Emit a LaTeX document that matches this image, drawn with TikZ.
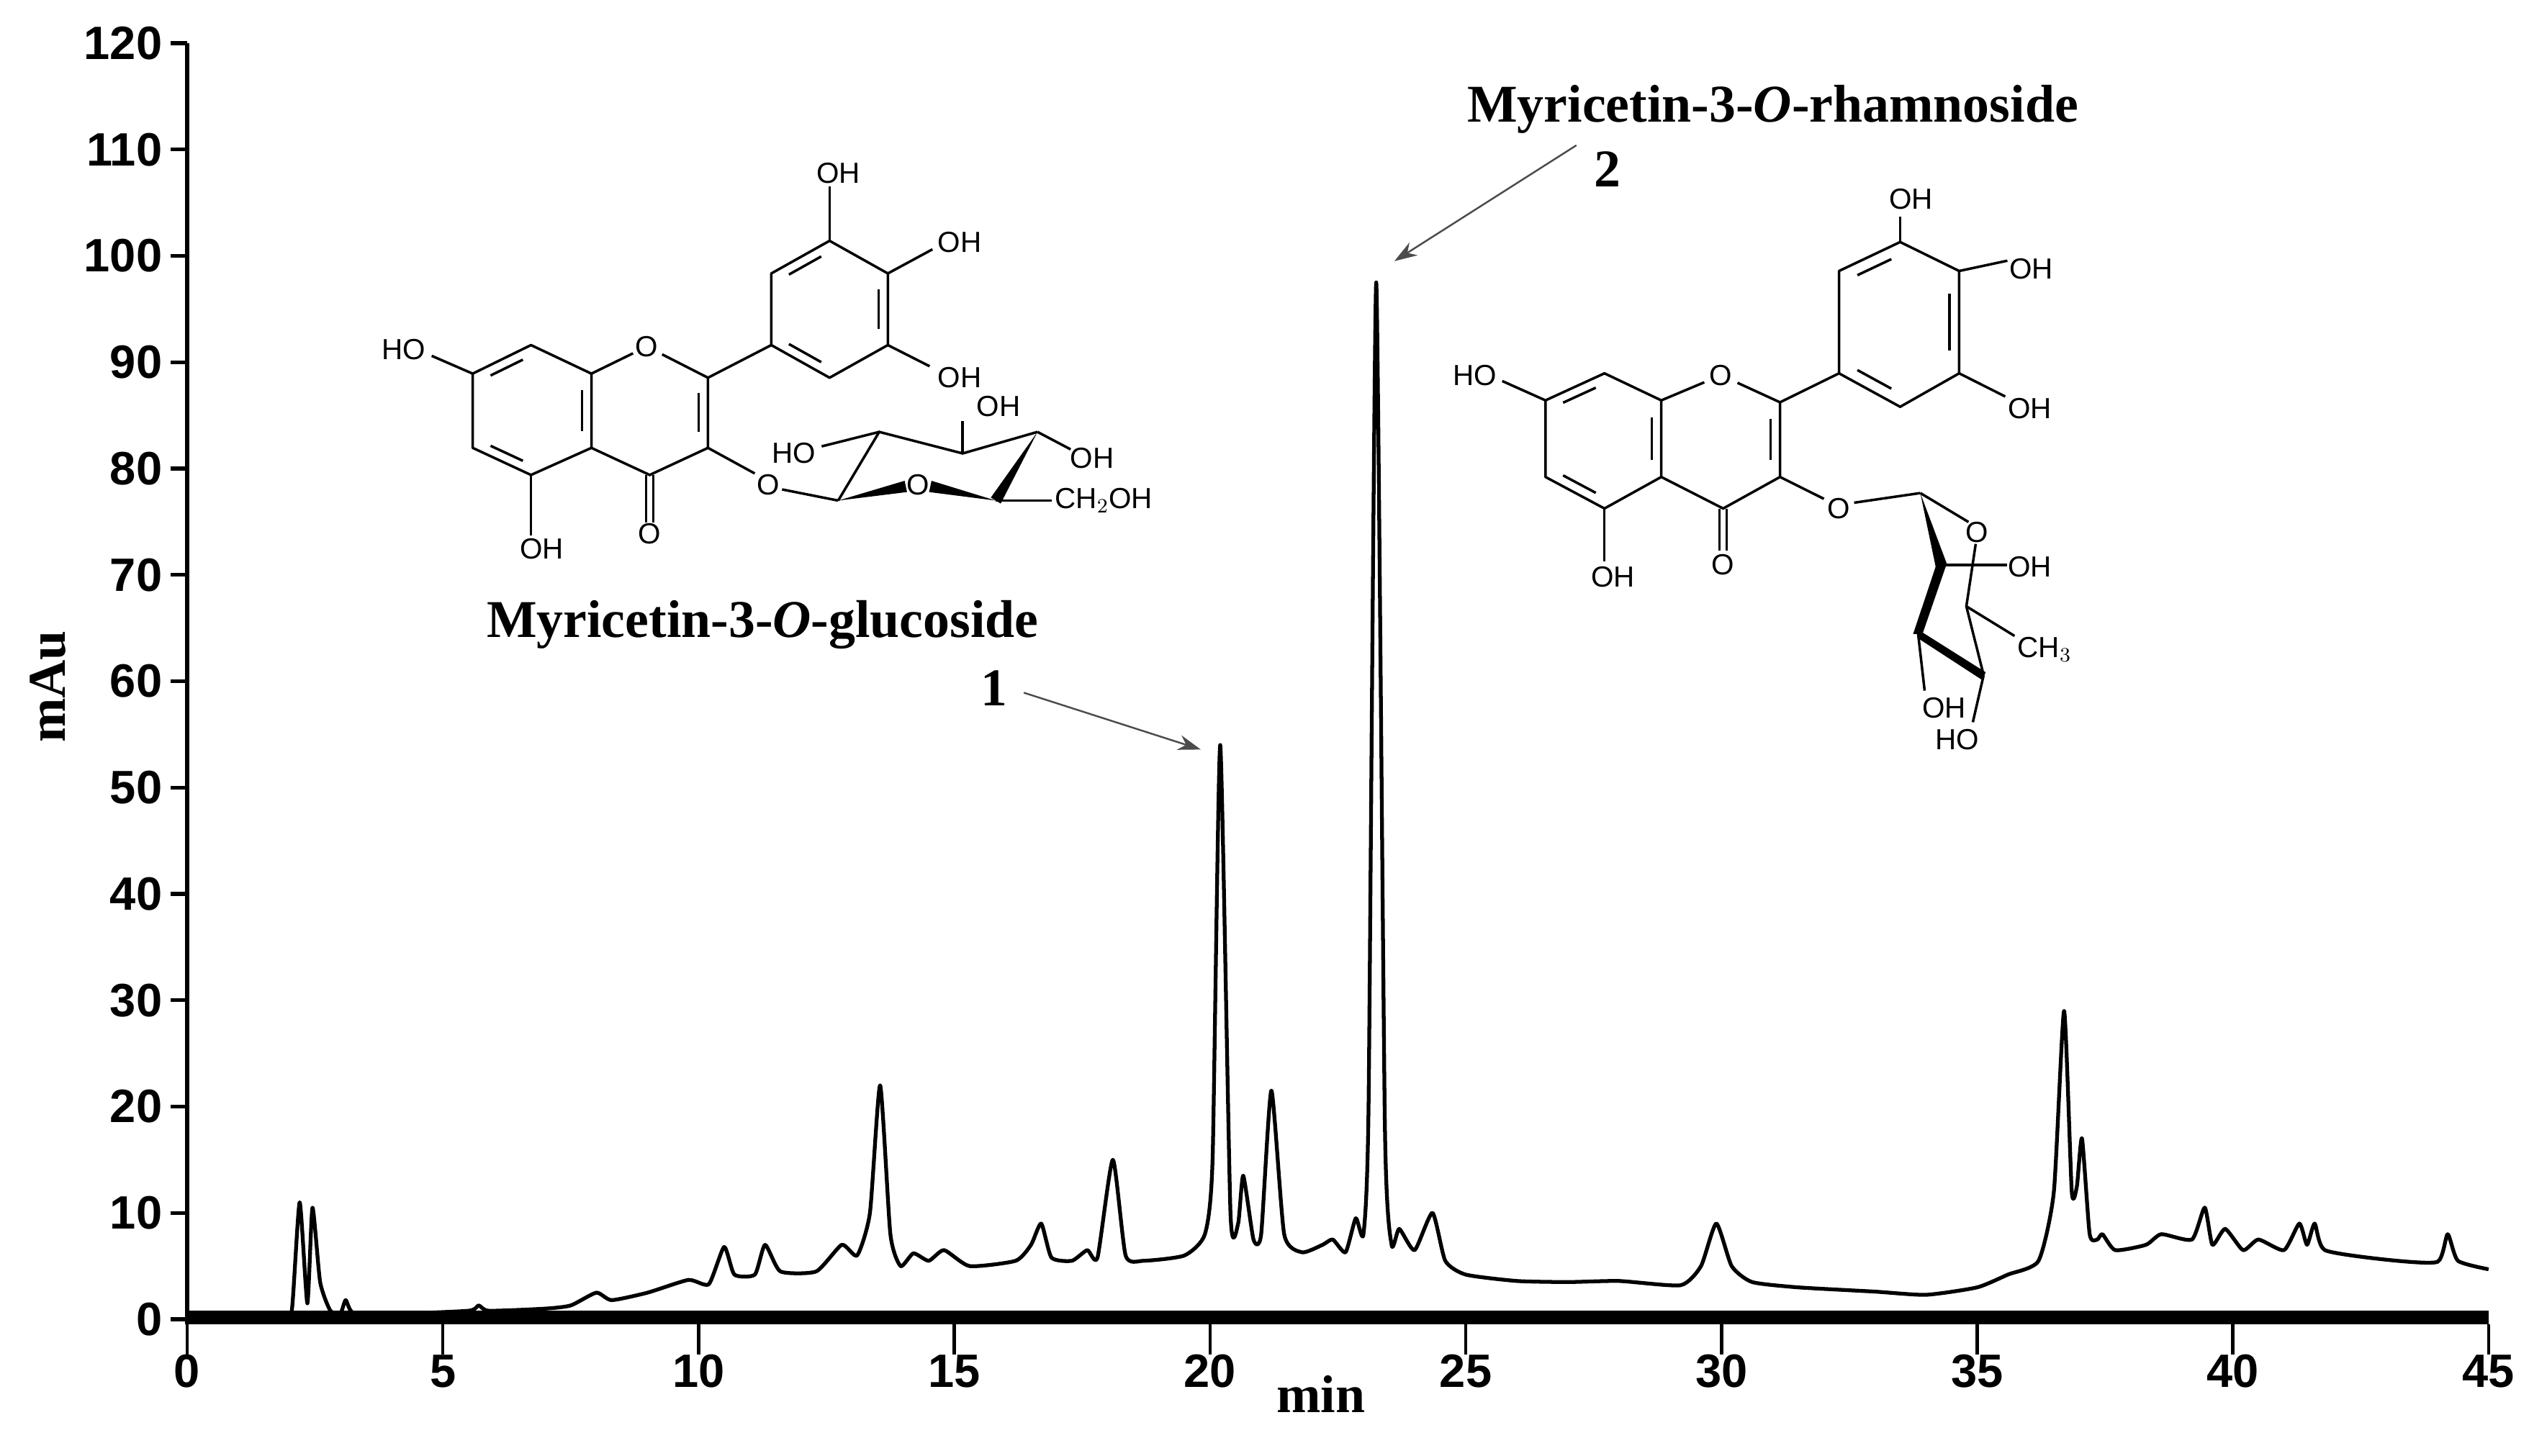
\documentclass[tikz,border=0pt]{standalone}
\usepackage{fontspec}
\setmainfont{Liberation Serif}
\newfontfamily\arial{Liberation Sans}
\usetikzlibrary{calc,arrows.meta}
\tikzset{
  ticklab/.style={font=\arial\bfseries\fontsize{18.5}{20}\selectfont, inner sep=0pt},
  atom/.style={font=\arial\fontsize{11.5}{12}\selectfont, inner sep=1pt},
  cname/.style={font=\bfseries\fontsize{21}{23}\selectfont, inner sep=0pt},
  bond/.style={line width=1.0pt},
  pointer/.style={line width=0.7pt, gray!60!black, -{Stealth[length=9pt,width=6pt]}},
}
\newcommand\cA[3]{\coordinate (#1) at (#2,{180+(#3-180)*0.5159});}
\newcommand\cB[3]{\coordinate (#1) at (#2,{230+(#3-230)*0.8948});}
\newcommand\dbl[3]{\path ($(#1)!0.17!(#2)$) coordinate (dA) ($(#1)!0.83!(#2)$) coordinate (dB);
  \draw[bond] ($(dA)!0.16!(#3)$) -- ($(dB)!0.16!(#3)$);}
\newcommand\wdg[2]{\fill (#1) -- ($(#2)!0.08cm!90:(#1)$) -- ($(#2)!0.08cm!-90:(#1)$) -- cycle;}
\newcommand\atA[4][]{\node[atom,#1] (#2) at (#3) {#4};}
\begin{document}
\begin{tikzpicture}
\useasboundingbox[fill=white] (0,0) rectangle (35.13,20.22);
% ---------- plot ----------
\begin{scope}[shift={(2.60,1.89)}, x=0.7104cm, y=0.14775cm]
  \fill (0,-0.5) rectangle (45,0.8);
  \draw[line width=1.5pt] (0,-0.5) -- (0,120);
  \foreach \v in {0,10,...,120} {
    \draw[line width=1.5pt] (0,\v) -- (-0.32,\v);
    \node[ticklab, anchor=east] (yl\v) at (-0.48,\v) {\v};
  }
  \foreach \v in {0,5,...,45} {
    \draw[line width=1.3pt] (\v,-0.5) -- (\v,-3.3);
    \node[ticklab] (xl\v) at (\v,-4.9) {\v};
  }
  \node[cname, rotate=90] (ylab) at (-2.72,59.5) {mAu};
  \node[cname] (xlab) at (22.17,-7.0) {min};
  \draw[line width=1.5pt, line join=round] plot[smooth, tension=0.35] coordinates {
   (0,0.5) (1.9,0.5) (2.05,1) (2.2,11) (2.35,1.5) (2.45,10.5) (2.6,3.5) (2.8,0.8) (3.0,0.6) (3.1,1.8) (3.25,0.6)
   (4,0.5) (5.5,0.8) (5.7,1.3) (5.9,0.8) (7,1) (7.5,1.3) (8,2.5) (8.3,1.8) (9,2.5) (9.8,3.7) (10.2,3.3)
   (10.5,6.8) (10.7,4.2) (11.1,4.2) (11.3,7) (11.6,4.5) (12.3,4.5) (12.8,7) (13.1,6) (13.35,10) (13.55,22) (13.75,8) (13.95,5)
   (14.2,6.2) (14.5,5.5) (14.8,6.5) (15.3,5) (16.2,5.5) (16.5,7) (16.7,9) (16.9,5.8) (17.3,5.5) (17.6,6.5) (17.8,5.8)
   (18.1,15) (18.35,6) (18.7,5.5) (19.5,6) (19.9,8) (20.05,15) (20.2,54) (20.4,10) (20.55,9) (20.65,13.5) (20.85,7.5)
   (21.0,8) (21.2,21.5) (21.45,8) (21.8,6.3) (22.2,7) (22.4,7.5) (22.65,6.3) (22.85,9.5) (23.0,8) (23.1,20) (23.25,97.5) (23.42,18) (23.55,7)
   (23.7,8.5) (24.0,6.5) (24.35,10) (24.6,5.5) (25,4.2) (26,3.6) (27,3.5) (28,3.6) (29.2,3.2) (29.6,5) (29.9,9) (30.2,5) (30.6,3.5)
   (31.5,3) (33,2.6) (34,2.3) (35,3) (35.6,4.2) (36.2,5.5) (36.5,12) (36.7,29) (36.85,12) (36.95,12.5) (37.05,17) (37.2,8) (37.35,7.5) (37.45,8)
   (37.7,6.5) (38.3,7) (38.6,8) (39.2,7.5) (39.45,10.5) (39.6,7) (39.85,8.5) (40.2,6.5) (40.5,7.5) (41,6.5) (41.3,9) (41.45,7)
   (41.6,9) (41.8,6.5) (43,5.6) (44,5.4) (44.2,8) (44.4,5.5) (45,4.7) };
\end{scope}
% ---------- labels and arrows ----------
\begin{scope}[shift={(0,20.22)}, x=0.01cm, y=-0.01cm]
  \node[cname] (n1) at (1382,957) {1};
  \node[cname] (n2) at (2234,235) {2};
  \node[cname] (c1) at (1060,869) {Myricetin-3-\textit{O}-glucoside};
  \node[cname] (c2) at (2464,152) {Myricetin-3-\textit{O}-rhamnoside};
  \coordinate (p1) at (1669,1042);
  \coordinate (p2) at (1938,363);
  \draw[pointer] (1423,963) -- (p1);
  \draw[pointer] (2191,202) -- (p2);

  % ===== structure 1 =====
  \cA{C7}{657}{838} \cA{C8}{738}{761} \cA{C8a}{822}{838}
  \cA{C4a}{822}{1038} \cA{C5}{738}{1111} \cA{C6}{657}{1038}
  \cA{O1}{899}{765} \cA{C2}{984}{849} \cA{C3}{984}{1038} \cA{C4}{903}{1111}
  \cA{Bc1}{1072}{761} \cA{Bc2}{1072}{568} \cA{Bc3}{1153}{480}
  \cA{Bc4}{1234}{568} \cA{Bc5}{1234}{761} \cA{Bc6}{1153}{849}
  \cA{Ac}{740}{938} \cA{Cc}{903}{938} \cA{Bc}{1153}{665}
  \cA{kO}{903}{1240} \cA{xOc}{903}{1270}
  \cA{k5}{738}{1275} \cA{x5}{753}{1311}
  \cA{k7}{600}{790} \cA{x7}{561}{772}
  \cA{k3}{1153}{334} \cA{x3}{1165}{297}
  \cA{k4}{1296}{503} \cA{x4}{1334}{484}
  \cA{k5b}{1292}{818} \cA{x5b}{1334}{849}
  \cA{kg}{1049}{1107} \cA{xg}{1068}{1138} \cA{kg2}{1087}{1150}
  \cA{S1}{1165}{1180} \cA{S2}{1222}{995} \cA{S3}{1338}{1053}
  \cA{S4}{1442}{995} \cA{S5}{1384}{1180} \cA{SO}{1276}{1138}
  \cA{ks2}{1142}{1034} \cA{xs2}{1103}{1053}
  \cA{ks3}{1338}{965} \cA{xs3}{1388}{926}
  \cA{ks4}{1488}{1042} \cA{xs4}{1518}{1065}
  \cA{ks5}{1462}{1180}
  \draw[bond, line join=round] (C7)--(C8)--(C8a)--(C4a)--(C5)--(C6)--cycle;
  \draw[bond] (C8a)--($(C8a)!0.75!(O1)$); \draw[bond] ($(O1)!0.25!(C2)$)--(C2)--(C3)--(C4)--(C4a);
  \draw[bond, line join=round] (Bc1)--(Bc2)--(Bc3)--(Bc4)--(Bc5)--(Bc6)--cycle;
  \draw[bond] (C2)--(Bc1);
  \dbl{C7}{C8}{Ac} \dbl{C8a}{C4a}{Ac} \dbl{C5}{C6}{Ac}
  \dbl{C2}{C3}{Cc} \dbl{Bc2}{Bc3}{Bc} \dbl{Bc4}{Bc5}{Bc} \dbl{Bc1}{Bc6}{Bc}
  \atA{o1}{O1}{O}
  \draw[bond] ($(C4)+(-5,0)$)--($(kO)+(-5,0)$); \draw[bond] ($(C4)+(5,0)$)--($(kO)+(5,0)$);
  \atA{oc}{xOc}{O}
  \draw[bond] (C5)--(k5); \atA{oh5}{x5}{OH}
  \draw[bond] (C7)--(k7); \atA{oh7}{x7}{HO}
  \draw[bond] (Bc3)--(k3); \atA{oh3}{x3}{OH}
  \draw[bond] (Bc4)--(k4); \atA{oh4}{x4}{OH}
  \draw[bond] (Bc5)--(k5b); \atA{oh5b}{x5b}{OH}
  \draw[bond] (C3)--(kg); \atA{og}{xg}{O}
  \draw[bond] (kg2)--(S1); \draw[bond] (S1)--(S2)--(S3)--(S4);
  \wdg{S4}{S5} \wdg{S5}{$(SO)+(17,2)$} \wdg{S1}{$(SO)+(-17,2)$}
  \atA{os}{SO}{O}
  \draw[bond] (S2)--(ks2); \atA{hos2}{xs2}{HO}
  \draw[bond] (S3)--(ks3); \atA{ohs3}{xs3}{OH}
  \draw[bond] (S4)--(ks4); \atA{ohs4}{xs4}{OH}
  \draw[bond] (S5)--(ks5); \atA[anchor=west]{ch2oh}{ks5}{CH$_2$OH}

  % ===== structure 2 =====
  \cB{D7}{2148}{595} \cB{D8}{2230}{553} \cB{D8a}{2309}{595}
  \cB{D4a}{2309}{714} \cB{D5}{2230}{763} \cB{D6}{2148}{714}
  \cB{DO1}{2392}{556} \cB{D2}{2474}{598} \cB{D3}{2474}{714} \cB{D4}{2395}{763}
  \cB{E1}{2556}{553} \cB{E2}{2556}{394} \cB{E3}{2641}{349}
  \cB{E4}{2723}{394} \cB{E5}{2723}{553} \cB{E6}{2641}{605}
  \cB{Dc}{2228}{655} \cB{Fc}{2392}{655} \cB{Ec}{2640}{475}
  \cB{lO}{2395}{828} \cB{yOc}{2395}{850}
  \cB{l5}{2230}{845} \cB{y5}{2242}{869}
  \cB{l7}{2088}{565} \cB{y7}{2050}{556}
  \cB{l3}{2641}{309} \cB{y3}{2656}{282}
  \cB{l4}{2790}{378} \cB{y4}{2823}{391}
  \cB{l5b}{2787}{589} \cB{y5b}{2821}{608}
  \cB{lg}{2535}{748} \cB{yg}{2556}{763} \cB{lg2}{2577}{754}
  \cB{R1}{2669}{739} \cB{R2}{2698}{851} \cB{R3}{2666}{958}
  \cB{R4}{2757}{1022} \cB{R5}{2733}{915} \cB{RO}{2748}{800}
  \cB{lr1}{2736}{784} \cB{lr5}{2746}{818}
  \cB{lr2}{2790}{851} \cB{yr2}{2821}{854}
  \cB{lm}{2800}{961} \cB{ym}{2800}{982}
  \cB{lr3}{2675}{1046} \cB{yr3}{2702}{1073}
  \cB{lr4}{2742}{1095} \cB{yr4}{2720}{1122}
  \draw[bond, line join=round] (D7)--(D8)--(D8a)--(D4a)--(D5)--(D6)--cycle;
  \draw[bond] (D8a)--($(D8a)!0.72!(DO1)$); \draw[bond] ($(DO1)!0.28!(D2)$)--(D2)--(D3)--(D4)--(D4a);
  \draw[bond, line join=round] (E1)--(E2)--(E3)--(E4)--(E5)--(E6)--cycle;
  \draw[bond] (D2)--(E1);
  \dbl{D7}{D8}{Dc} \dbl{D8a}{D4a}{Dc} \dbl{D5}{D6}{Dc}
  \dbl{D2}{D3}{Fc} \dbl{E2}{E3}{Ec} \dbl{E4}{E5}{Ec} \dbl{E1}{E6}{Ec}
  \atA{do1}{DO1}{O}
  \draw[bond] ($(D4)+(-5,0)$)--($(lO)+(-5,0)$); \draw[bond] ($(D4)+(5,0)$)--($(lO)+(5,0)$);
  \atA{doc}{yOc}{O}
  \draw[bond] (D5)--(l5); \atA{doh5}{y5}{OH}
  \draw[bond] (D7)--(l7); \atA{doh7}{y7}{HO}
  \draw[bond] (E3)--(l3); \atA{eoh3}{y3}{OH}
  \draw[bond] (E4)--(l4); \atA{eoh4}{y4}{OH}
  \draw[bond] (E5)--(l5b); \atA{eoh5}{y5b}{OH}
  \draw[bond] (D3)--(lg); \atA{dog}{yg}{O}
  \draw[bond] (lg2)--(R1);
  \draw[bond] (R1)--(lr1);
  \wdg{R1}{R2}
  \fill ($(R2)+(-7,0)$) -- ($(R2)+(7,0)$) -- ($(R3)+(6,0)$) -- ($(R3)+(-7,0)$) -- cycle;
  \fill ($(R3)+(0,-6)$) -- ($(R4)+(3,-4)$) -- ($(R4)+(-3,6)$) -- ($(R3)+(0,6)$) -- cycle;
  \draw[bond] (R4)--(R5)--(lr5);
  \atA{ro}{RO}{O}
  \draw[bond] (R2)--(lr2); \atA{roh2}{yr2}{OH}
  \draw[bond] (R5)--(lm); \atA[anchor=west]{rch3}{ym}{CH$_3$}
  \draw[bond] (R3)--(lr3); \atA{roh3}{yr3}{OH}
  \draw[bond] (R4)--(lr4); \atA{rho4}{yr4}{HO}
\end{scope}
\end{tikzpicture}
\end{document}
